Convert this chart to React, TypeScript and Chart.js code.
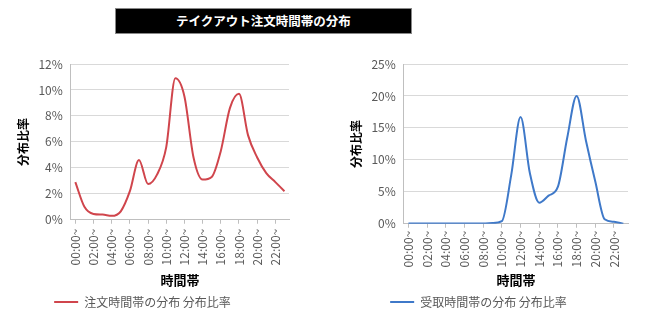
import React, { useEffect, useRef } from "react";
import { Chart, registerables } from "chart.js";

Chart.register(...registerables);

const hours: string[] = [
  "00:00~", "01:00~", "02:00~", "03:00~", "04:00~", "05:00~",
  "06:00~", "07:00~", "08:00~", "09:00~", "10:00~", "11:00~",
  "12:00~", "13:00~", "14:00~", "15:00~", "16:00~", "17:00~",
  "18:00~", "19:00~", "20:00~", "21:00~", "22:00~", "23:00~",
];

const orderShare: number[] = [
  2.9, 1.0, 0.45, 0.4, 0.3, 0.65, 2.2, 4.6, 2.75, 3.5, 5.6, 10.9,
  9.5, 4.8, 3.1, 3.3, 5.3, 8.6, 9.7, 6.5, 4.8, 3.6, 2.9, 2.2,
];

const pickupShare: number[] = [
  0.05, 0.05, 0.05, 0.05, 0.05, 0.05, 0.05, 0.05, 0.05, 0.1, 0.4, 7.6,
  16.7, 7.9, 3.3, 4.4, 5.8, 13.5, 20.0, 13.0, 6.6, 0.7, 0.3, 0.0,
];

const titleText = "テイクアウト注文時間帯の分布";
const orderLabel = "注文時間帯の分布 分布比率";
const pickupLabel = "受取時間帯の分布 分布比率";
const yTitle = "分布比率";
const xTitle = "時間帯";

const FONT = "'Noto Sans CJK JP', 'Noto Sans', sans-serif";

function Panel(props: {
  label: string;
  data: number[];
  color: string;
  max: number;
  step: number;
  padLeft: number;
  padRight: number;
  legendShift: number;
  xTickPad: number;
}) {
  const ref = useRef<HTMLCanvasElement | null>(null);
  useEffect(() => {
    if (!ref.current) return;
    const shiftPlugin = {
      id: "legendShift",
      afterLayout(chart: any) {
        const lg = chart.legend;
        if (lg) {
          lg.left += props.legendShift;
          lg.right += props.legendShift;
        }
      },
    };
    const chart = new Chart(ref.current, {
      type: "line",
      data: {
        labels: hours,
        datasets: [
          {
            label: props.label,
            data: props.data,
            borderColor: props.color,
            backgroundColor: props.color,
            borderWidth: 2,
            pointRadius: 0,
            tension: 0.4,
            cubicInterpolationMode: "monotone",
            fill: false,
          },
        ],
      },
      plugins: [shiftPlugin],
      options: {
        animation: false,
        responsive: false,
        maintainAspectRatio: false,
        layout: { padding: { left: props.padLeft, right: props.padRight, top: 19, bottom: 4 } },
        plugins: {
          legend: {
            position: "bottom",
            labels: {
              usePointStyle: true,
              pointStyle: "line",
              pointStyleWidth: 24,
              boxWidth: 24,
              color: "#595959",
              font: { family: FONT, size: 12 },
              padding: 8,
              generateLabels: (c: any) => {
                const items = Chart.defaults.plugins.legend.labels.generateLabels(c);
                items.forEach((it: any) => {
                  it.lineWidth = 2;
                });
                return items;
              },
            },
          },
          tooltip: { enabled: false },
        },
        scales: {
          x: {
            offset: true,
            grid: {
              drawOnChartArea: false,
              drawTicks: true,
              tickLength: 4,
              color: "#bfbfbf",
            },
            border: { color: "#bfbfbf" },
            ticks: {
              autoSkip: false,
              maxRotation: 90,
              minRotation: 90,
              padding: props.xTickPad,
              color: "#595959",
              font: { family: FONT, size: 12 },
              callback: (_v: any, i: number) => (i % 2 === 0 ? hours[i] : null),
            },
            title: {
              display: true,
              text: xTitle,
              color: "#000",
              font: { family: FONT, size: 13, weight: "bold" },
              padding: { top: 2, bottom: 0 },
            },
          },
          y: {
            min: 0,
            max: props.max,
            grid: { color: "#d9d9d9", drawTicks: false },
            border: { color: "#bfbfbf" },
            ticks: {
              stepSize: props.step,
              color: "#595959",
              padding: 8,
              font: { family: FONT, size: 12 },
              callback: (v: any) => `${v}%`,
            },
            title: {
              display: true,
              text: yTitle,
              color: "#000",
              font: { family: FONT, size: 12, weight: "bold" },
              padding: { top: 0, bottom: 0 },
            },
          },
        },
      },
    });
    return () => chart.destroy();
  }, []);
  return <canvas ref={ref} width={325} height={277} style={{ display: "block" }} />;
}

export default function App() {
  return (
    <div
      style={{
        position: "absolute",
        left: 0,
        top: 0,
        width: 650,
        height: 322,
        background: "#fff",
        fontFamily: FONT,
      }}
    >
      <div
        style={{
          position: "absolute",
          left: 115,
          top: 8,
          width: 297,
          height: 26,
          background: "#000",
          color: "#fff",
          fontWeight: "bold",
          fontSize: 12.5,
          lineHeight: "24px",
          textAlign: "center",
          border: "1px solid #888",
          boxSizing: "border-box",
        }}
      >
        {titleText}
      </div>
      <div style={{ position: "absolute", left: 0, top: 45 }}>
        <Panel label={orderLabel} data={orderShare} color="#D0454C" max={12} step={2} padLeft={16} padRight={36} legendShift={-10} xTickPad={5} />
      </div>
      <div style={{ position: "absolute", left: 325, top: 45 }}>
        <Panel label={pickupLabel} data={pickupShare} color="#3F79C9" max={25} step={5} padLeft={24} padRight={22} legendShift={-10} xTickPad={3} />
      </div>
    </div>
  );
}
